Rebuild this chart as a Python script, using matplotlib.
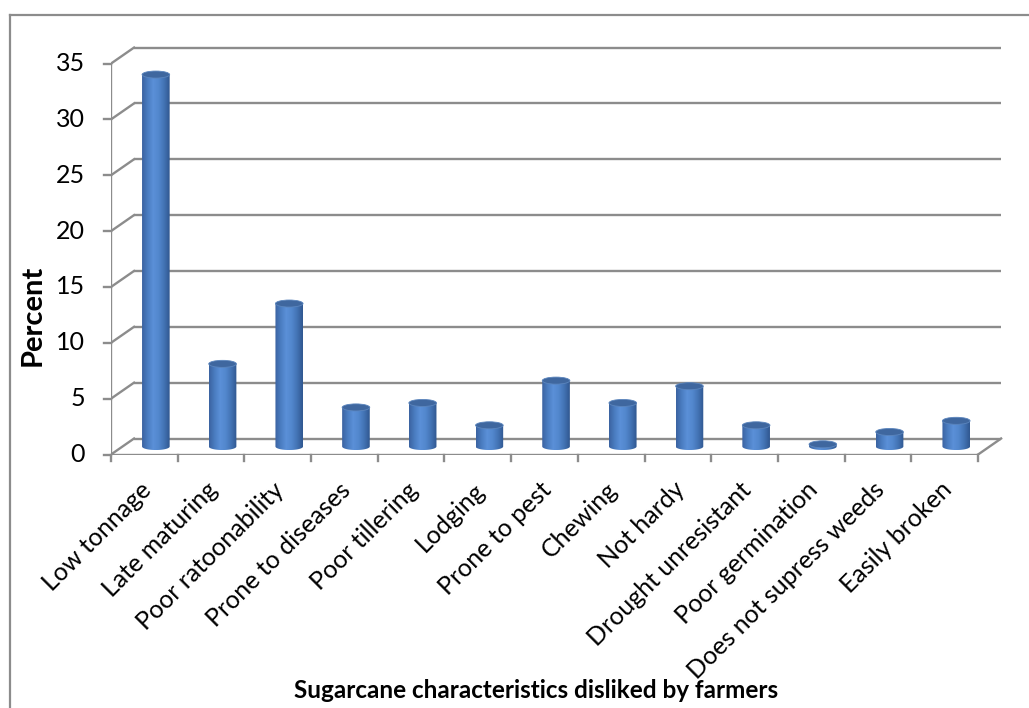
import numpy as np
import matplotlib.pyplot as plt
from matplotlib.patches import Ellipse, PathPatch
from matplotlib.path import Path
from matplotlib.colors import LinearSegmentedColormap
from matplotlib.lines import Line2D

# Data
categories = ['Low tonnage', 'Late maturing', 'Poor ratoonability',
              'Prone to diseases', 'Poor tillering', 'Lodging',
              'Prone to pest', 'Chewing', 'Not hardy', 'Drought unresistant',
              'Poor germination', 'Does not supress weeds', 'Easily broken']
percent = [33.3, 7.4, 12.8, 3.5, 3.9, 1.9, 5.9, 3.9, 5.4, 1.9, 0.2, 1.3, 2.3]
yticks = [0, 5, 10, 15, 20, 25, 30, 35]

plt.rcParams['font.family'] = ['Lato', 'DejaVu Sans']

W, H = 1029, 708
fig = plt.figure(figsize=(W / 100, H / 100), dpi=100)

# pseudo-3D depth offsets (data units)
dx, dy = 0.345, 1.43
n = len(categories)
xmax, ymax = 13.4, 37.5
px_per_x, px_per_y = 66.7, 11.17
ax = fig.add_axes([111 / W, (H - 454.5) / H, xmax * px_per_x / W, ymax * px_per_y / H])
ax.set_xlim(0, xmax)
ax.set_ylim(0, ymax)
ax.axis('off')

grid_c = '#8c8c8c'
lw = 1.7

# back wall gridlines and side wall diagonals
for v in yticks:
    ax.plot([dx, n + dx], [v + dy, v + dy], color=grid_c, lw=lw, solid_capstyle='butt', zorder=1)
    ax.plot([0, dx], [v, v + dy], color=grid_c, lw=lw, zorder=1)
    # y tick marks
    ax.plot([-0.11, 0], [v, v], color=grid_c, lw=lw, clip_on=False, zorder=1)
    ax.text(-0.39, v, str(v), ha='right', va='center', fontsize=18, color='#000000')

# floor
ax.plot([0, n], [0, 0], color=grid_c, lw=lw, zorder=1)
ax.plot([n, n + dx], [0, dy], color=grid_c, lw=lw, zorder=1)
# front vertical axis
ax.plot([0, 0], [0, 35], color=grid_c, lw=lw, zorder=1)
# x ticks
for i in range(n + 1):
    ax.plot([i, i], [0, -0.6], color=grid_c, lw=lw, clip_on=False, zorder=1)

# cylinders
cmap = LinearSegmentedColormap.from_list('cyl', ['#3a62a0', '#4a7cc0', '#5b90d8', '#5287cd', '#4272b3', '#30578f'])
grad = np.linspace(0, 1, 256).reshape(1, -1)
bw, eh = 0.414, 0.63
base = dy / 2
for i, val in enumerate(percent):
    cx = i + 0.5 + dx / 2
    top = base + val
    x0, x1 = cx - bw / 2, cx + bw / 2
    t = np.linspace(np.pi, 2 * np.pi, 40)
    bx = cx + bw / 2 * np.cos(t)
    by = base + eh / 2 * np.sin(t)
    verts = [(x0, top)] + list(zip(bx, by)) + [(x1, top), (x0, top)]
    body = PathPatch(Path(verts), facecolor='none', edgecolor='none', zorder=3)
    ax.add_patch(body)
    im = ax.imshow(grad, cmap=cmap, aspect='auto', extent=(x0, x1, base - eh / 2, top),
                   zorder=3, interpolation='bilinear')
    im.set_clip_path(body)
    ax.add_patch(Ellipse((cx, top), bw, eh, facecolor='#3f679f', edgecolor='#5b85bd',
                         lw=0.6, zorder=4))

ax.set_xlim(0, xmax)
ax.set_ylim(0, ymax)

# category labels
for i, name in enumerate(categories):
    ax.text(i + 0.42, -2.1, name, rotation=45, rotation_mode='anchor',
            ha='right', va='top', fontsize=18, color='#000000')

ax.text(-1.17, 12.5, 'Percent', rotation=90, ha='center', va='center',
        fontsize=21, fontweight='bold')
fig.text(536 / W, 1 - 691 / H, 'Sugarcane characteristics disliked by farmers',
         ha='center', va='center', fontsize=17.5, fontweight='bold')

# outer chart border
fig.add_artist(Line2D([10 / W, 10 / W], [0, 1 - 15 / H], transform=fig.transFigure,
                      color=grid_c, lw=1.6))
fig.add_artist(Line2D([10 / W, 1], [1 - 15 / H, 1 - 15 / H], transform=fig.transFigure,
                      color=grid_c, lw=1.6))

fig.savefig('out.png', dpi=100, facecolor='white')
